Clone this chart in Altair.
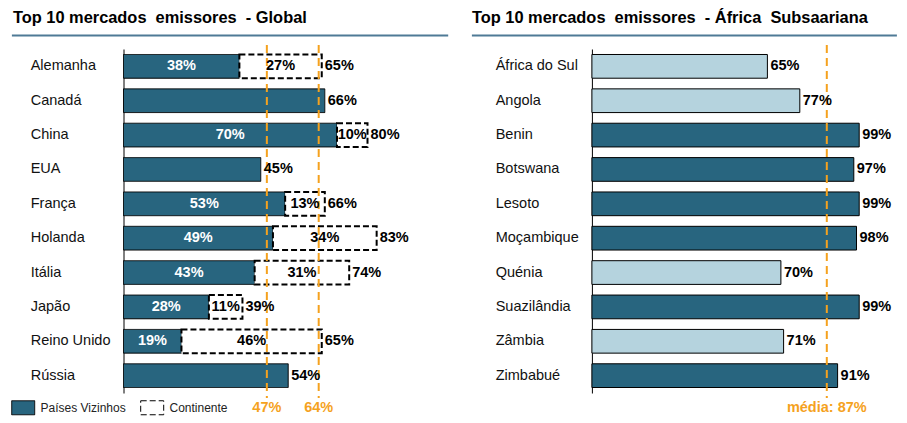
import altair as alt
import pandas as pd

# ---------------- data ----------------
countries_g = ["Alemanha", "Canadá", "China", "EUA", "França", "Holanda",
               "Itália", "Japão", "Reino Unido", "Rússia"]
vizinhos = [38, 66, 70, 45, 53, 49, 43, 28, 19, 54]
continente = [27, 0, 10, 0, 13, 34, 31, 11, 46, 0]
ref_values_g = [47, 64]
ref_labels_g = ["47%", "64%"]

countries_a = ["África do Sul", "Angola", "Benin", "Botswana", "Lesoto",
               "Moçambique", "Quénia", "Suazilândia", "Zâmbia", "Zimbabué"]
values_a = [65, 77, 99, 97, 99, 98, 70, 99, 71, 91]
media_a = 87

series_names = ["Países Vizinhos", "Continente"]
title_g = "Top 10 mercados\u00a0 emissores\u00a0 - Global"
title_a = "Top 10 mercados\u00a0 emissores\u00a0 - África\u00a0 Subsaariana"

# ---------------- styles ----------------
DARK = "#28657f"
LIGHT = "#b5d3de"
ORANGE = "#f5a21e"
LINE = "#4f7a96"
FONT = "Arial, Liberation Sans, sans-serif"
W_L, W_R, H = 305, 270, 344
VAL_FS = 14.5
TITLE_FS = 16.4

# ---------------- tables ----------------
seg_rows = []
for c, v, k in zip(countries_g, vizinhos, continente):
    seg_rows.append({"country": c, "series": series_names[0], "start": 0, "end": v})
    if k > 0:
        seg_rows.append({"country": c, "series": series_names[1], "start": v, "end": v + k})
seg_df = pd.DataFrame(seg_rows)

glob_df = pd.DataFrame({"country": countries_g, "viz": vizinhos, "cont": continente})
glob_df["total"] = glob_df["viz"] + glob_df["cont"]
ref_g = pd.DataFrame({"v": ref_values_g, "label": ref_labels_g})

afr_df = pd.DataFrame({"country": countries_a, "value": values_a})
ref_a = pd.DataFrame({"v": [media_a], "label": [f"média: {media_a}%"]})
one = pd.DataFrame({"a": [0]})

xs_l = alt.Scale(domain=[0, 100], nice=False)
xs_r = alt.Scale(domain=[0, 100], nice=False)
ys = dict(paddingInner=0.31, paddingOuter=0.16)


def yaxis(pad):
    return alt.Axis(title=None, ticks=False, tickSize=0, labelPadding=pad, labelAlign="left",
                    labelFont=FONT, labelFontSize=14.5, labelColor="#111", domainColor="black",
                    domainWidth=1, grid=False)


txt_base = dict(font=FONT, fontSize=VAL_FS, fontWeight="bold")

# ---------------- left panel ----------------
Yg = alt.Y("country:N", sort=countries_g, scale=alt.Scale(**ys), axis=yaxis(93.3))

bars_l = alt.Chart(seg_df).mark_bar(stroke="black").encode(
    y=Yg,
    x=alt.X("start:Q", scale=xs_l, axis=None),
    x2="end:Q",
    fill=alt.Fill("series:N", scale=alt.Scale(domain=series_names, range=[DARK, "white"]),
                  legend=alt.Legend(title=None, orient="none", legendX=-112.3, legendY=351,
                                    direction="horizontal",
                                    symbolType="M-1,-1L2.286,-1L2.286,1L-1,1Z",
                                    symbolSize=196, symbolStrokeColor="black",
                                    symbolStrokeWidth=1, labelFont=FONT, labelFontSize=12,
                                    labelColor="#222", columnPadding=12, labelOffset=14.3,
                                    padding=0)),
    strokeDash=alt.StrokeDash("series:N", scale=alt.Scale(domain=series_names,
                                                          range=[[1, 0], [6, 3]])),
    strokeWidth=alt.condition(alt.datum.series == series_names[1], alt.value(2), alt.value(1)),
)

rules_l = alt.Chart(ref_g).mark_rule(color=ORANGE, strokeDash=[8, 5], strokeWidth=2).encode(
    x=alt.X("v:Q", scale=xs_l, axis=None), y=alt.value(-4), y2=alt.value(H + 5))

in_l = alt.Chart(glob_df).transform_filter(alt.datum.cont > 0).transform_calculate(
    pos="datum.viz / 2", lab="datum.viz + '%'").mark_text(color="white", **txt_base).encode(
    y=Yg, x=alt.X("pos:Q", scale=xs_l, axis=None), text="lab:N")
cont_l = alt.Chart(glob_df).transform_filter(alt.datum.cont > 0).transform_calculate(
    pos="datum.viz + datum.cont / 2", lab="datum.cont + '%'").mark_text(
    color="black", **txt_base).encode(
    y=Yg, x=alt.X("pos:Q", scale=xs_l, axis=None), text="lab:N")
tot_l = alt.Chart(glob_df).transform_calculate(lab="datum.total + '%'").mark_text(
    color="black", align="left", dx=3, **txt_base).encode(
    y=Yg, x=alt.X("total:Q", scale=xs_l, axis=None), text="lab:N")
reflab_l = alt.Chart(ref_g).mark_text(color=ORANGE, **txt_base).encode(
    x=alt.X("v:Q", scale=xs_l, axis=None), y=alt.value(H + 14.5), text="label:N")
under_l = alt.Chart(one).mark_rule(color=LINE, strokeWidth=2).encode(
    x=alt.value(-111.6), x2=alt.value(324.7), y=alt.value(-13.5))

left = alt.layer(bars_l, rules_l, in_l, cont_l, tot_l, reflab_l, under_l).properties(
    width=W_L, height=H,
    title=alt.TitleParams(title_g, anchor="start", frame="group",
                          dx=-110.6, fontSize=TITLE_FS, font=FONT, fontWeight="bold",
                          color="black", offset=8.6))

# ---------------- right panel ----------------
Ya = alt.Y("country:N", sort=countries_a, scale=alt.Scale(**ys), axis=yaxis(96.7))

bars_r = alt.Chart(afr_df).mark_bar(stroke="black", strokeWidth=1).encode(
    y=Ya,
    x=alt.X("value:Q", scale=xs_r, axis=None),
    fill=alt.condition(alt.datum.value >= media_a, alt.value(DARK), alt.value(LIGHT)),
)
rules_r = alt.Chart(ref_a).mark_rule(color=ORANGE, strokeDash=[8, 5], strokeWidth=2).encode(
    x=alt.X("v:Q", scale=xs_r, axis=None), y=alt.value(-4), y2=alt.value(H + 5))
tot_r = alt.Chart(afr_df).transform_calculate(lab="datum.value + '%'").mark_text(
    color="black", align="left", dx=3, **txt_base).encode(
    y=Ya, x=alt.X("value:Q", scale=xs_r, axis=None), text="lab:N")
reflab_r = alt.Chart(ref_a).mark_text(color=ORANGE, **txt_base).encode(
    x=alt.X("v:Q", scale=xs_r, axis=None), y=alt.value(H + 14.5), text="label:N")
under_r = alt.Chart(one).mark_rule(color=LINE, strokeWidth=2).encode(
    x=alt.value(-120), x2=alt.value(305), y=alt.value(-13.5))

right = alt.layer(bars_r, rules_r, tot_r, reflab_r, under_r).properties(
    width=W_R, height=H,
    title=alt.TitleParams(title_a, anchor="start", frame="group", dx=-120, fontSize=TITLE_FS,
                          font=FONT, fontWeight="bold", color="black", offset=8.6))

chart = alt.hconcat(left, right, spacing=163.4, bounds="flush").resolve_legend(
    fill="independent", strokeDash="independent").resolve_scale(
    fill="independent", strokeDash="independent").properties(
    padding={"left": 2.5, "top": 1, "right": 0, "bottom": 0}, background="white"
).configure_view(stroke="transparent", strokeWidth=0)

chart.save("out.html", embed_options={"renderer": "svg", "actions": False})
